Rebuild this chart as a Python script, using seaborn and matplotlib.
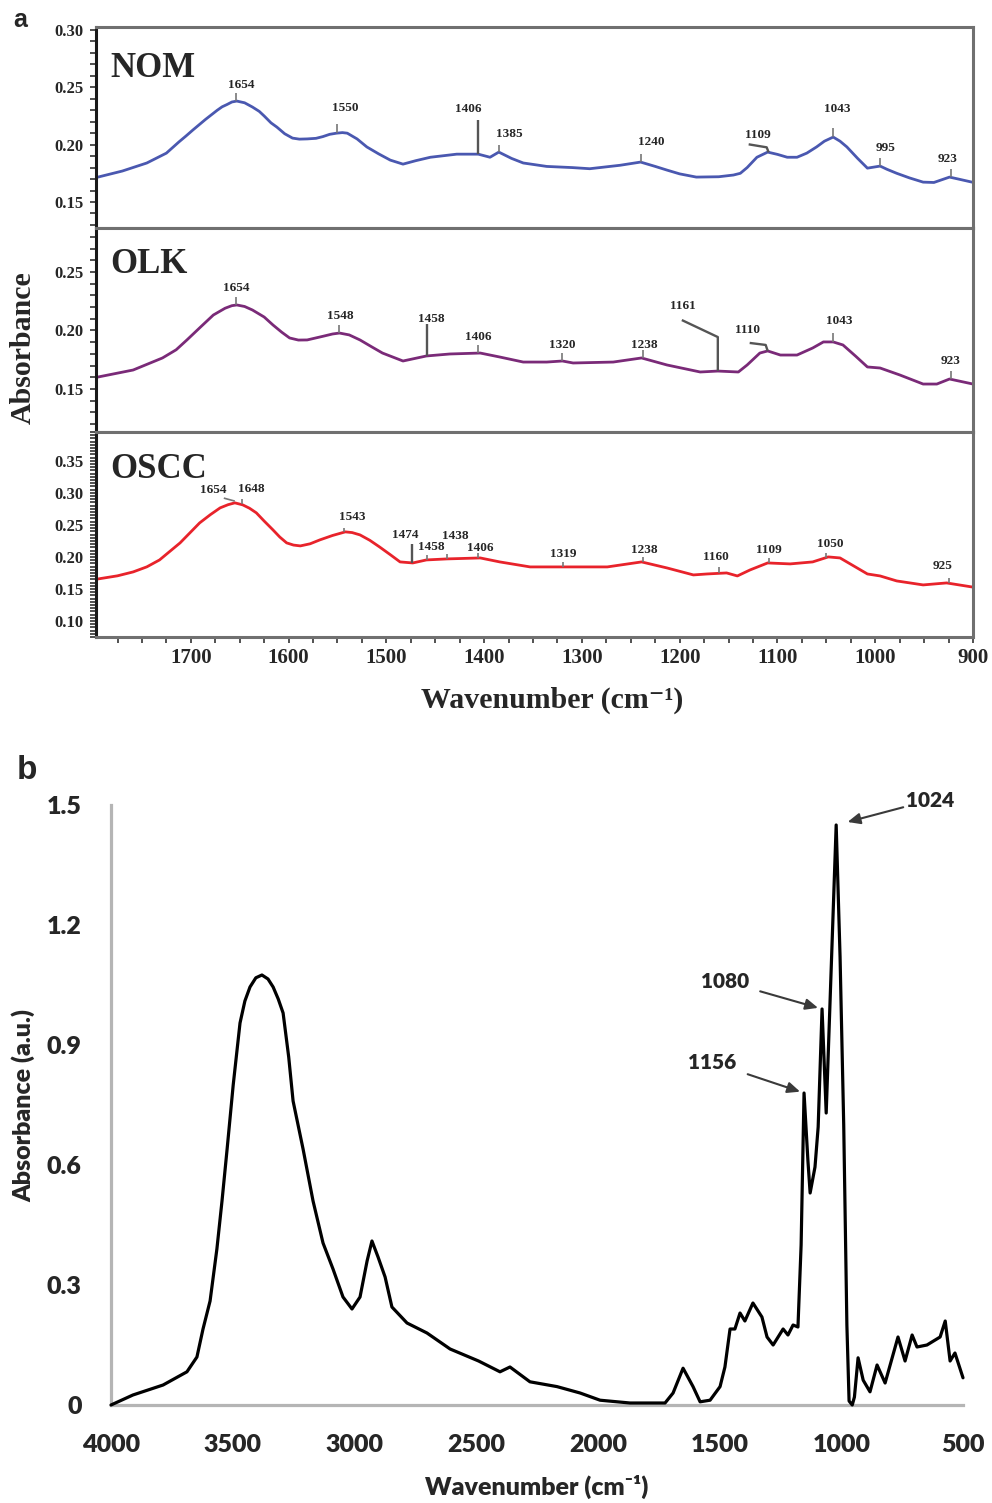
import numpy as np
import matplotlib.pyplot as plt
import seaborn as sns
from matplotlib.ticker import MultipleLocator

# ---------------- panel a: FTIR spectra, 1800-900 cm-1 ----------------
nom_wn = [1795, 1770, 1745, 1725, 1712, 1705, 1698, 1685, 1679, 1673, 1668, 1663, 1658, 1653, 1645,
          1637, 1630, 1625, 1618, 1612, 1604, 1596, 1589, 1581, 1572, 1565, 1558, 1551, 1545, 1540,
          1530, 1520, 1508, 1496, 1483, 1470, 1455, 1445, 1428, 1406, 1394, 1385, 1372, 1360, 1336,
          1310, 1292, 1261, 1240, 1225, 1213, 1200, 1183, 1160, 1145, 1138, 1131, 1121, 1110, 1100,
          1090, 1080, 1070, 1060, 1052, 1043, 1036, 1029, 1018, 1008, 995, 988, 978, 965, 951, 940,
          924, 915, 901]
nom_abs = [0.1717, 0.177, 0.184, 0.1926, 0.2025, 0.2075, 0.2127, 0.222, 0.226, 0.230, 0.233, 0.235,
           0.2372, 0.238, 0.2365, 0.2328, 0.229, 0.225, 0.219, 0.2153, 0.2095, 0.2057, 0.2048, 0.205,
           0.2055, 0.207, 0.209, 0.210, 0.2105, 0.210, 0.205, 0.198, 0.192, 0.1865, 0.183, 0.186,
           0.189, 0.190, 0.1917, 0.1917, 0.189, 0.1935, 0.188, 0.184, 0.181, 0.180, 0.179, 0.182,
           0.1848, 0.181, 0.1778, 0.1745, 0.1717, 0.172, 0.1735, 0.175, 0.180, 0.189, 0.1935, 0.1915,
           0.189, 0.189, 0.1926, 0.198, 0.203, 0.2066, 0.203, 0.198, 0.188, 0.1795, 0.1813, 0.1785,
           0.175, 0.171, 0.1673, 0.167, 0.1717, 0.170, 0.1673]

olk_wn = [1795, 1759, 1729, 1715, 1704, 1690, 1677, 1665, 1658, 1653, 1645, 1637, 1625, 1616, 1607,
          1599, 1590, 1581, 1565, 1555, 1548, 1538, 1527, 1515, 1504, 1483, 1459, 1435, 1404, 1384,
          1360, 1336, 1320, 1309, 1268, 1239, 1213, 1179, 1161, 1140, 1131, 1118, 1110, 1097, 1080,
          1064, 1053, 1043, 1033, 1020, 1008, 995, 975, 951, 937, 924, 900]
olk_abs = [0.1602, 0.1662, 0.1765, 0.1835, 0.1919, 0.203, 0.2132, 0.219, 0.2212, 0.2218, 0.2205,
           0.2175, 0.2115, 0.2047, 0.1985, 0.1936, 0.1918, 0.1919, 0.195, 0.197, 0.1978, 0.1962,
           0.1919, 0.186, 0.1807, 0.1739, 0.1782, 0.1799, 0.1807, 0.1773, 0.173, 0.173, 0.1739,
           0.1722, 0.173, 0.1765, 0.1705, 0.1645, 0.1653, 0.1645, 0.1705, 0.1807, 0.1825, 0.179,
           0.179, 0.185, 0.1902, 0.1902, 0.1876, 0.178, 0.1688, 0.1679, 0.162, 0.1542, 0.1542,
           0.1585, 0.1542]

oscc_wn = [1795, 1775, 1759, 1745, 1732, 1722, 1711, 1701, 1691, 1680, 1670, 1662, 1655, 1647, 1640,
           1633, 1625, 1616, 1609, 1602, 1595, 1588, 1578, 1568, 1555, 1542, 1535, 1527, 1517, 1507,
           1496, 1486, 1473, 1459, 1438, 1404, 1384, 1353, 1319, 1274, 1239, 1213, 1186, 1172, 1152,
           1141, 1128, 1110, 1087, 1064, 1048, 1036, 1008, 995, 978, 951, 927, 901]
oscc_abs = [0.1656, 0.1705, 0.1766, 0.1845, 0.1953, 0.208, 0.2219, 0.2375, 0.2531, 0.266, 0.2766,
            0.2815, 0.2844, 0.2813, 0.276, 0.2688, 0.256, 0.2422, 0.231, 0.2219, 0.2185, 0.2172,
            0.2205, 0.2266, 0.2335, 0.2391, 0.238, 0.2344, 0.226, 0.2156, 0.2035, 0.1922, 0.1906,
            0.1953, 0.1969, 0.1984, 0.1922, 0.1844, 0.1844, 0.1844, 0.1922, 0.1828, 0.1719, 0.1734,
            0.175, 0.1703, 0.1797, 0.1906, 0.1891, 0.1922, 0.2, 0.1984, 0.1734, 0.1703, 0.1625,
            0.1563, 0.1594, 0.1531]

nom_peaks = [1654, 1550, 1406, 1385, 1240, 1109, 1043, 995, 923]
olk_peaks = [1654, 1548, 1458, 1406, 1320, 1238, 1161, 1110, 1043, 923]
oscc_peaks = [1654, 1648, 1543, 1474, 1458, 1438, 1406, 1319, 1238, 1160, 1109, 1050, 925]

nom_yticks = [0.15, 0.20, 0.25, 0.30]
olk_yticks = [0.15, 0.20, 0.25]
oscc_yticks = [0.10, 0.15, 0.20, 0.25, 0.30, 0.35]
a_xticks = [1700, 1600, 1500, 1400, 1300, 1200, 1100, 1000, 900]

# ---------------- panel b: full range spectrum ----------------
b_wn = [4000, 3910, 3786, 3688, 3647, 3622, 3593, 3565, 3544, 3523, 3498, 3470, 3450, 3429, 3405,
        3380, 3355, 3334, 3313, 3293, 3270, 3252, 3211, 3170, 3129, 3088, 3047, 3010, 2977, 2948,
        2928, 2903, 2874, 2846, 2784, 2702, 2607, 2490, 2402, 2361, 2279, 2168, 2073, 1991, 1868,
        1724, 1691, 1650, 1609, 1580, 1539, 1498, 1478, 1457, 1437, 1416, 1396, 1363, 1326, 1305,
        1280, 1239, 1219, 1198, 1178, 1165, 1153, 1137, 1128, 1108, 1095, 1079, 1062, 1021, 1005,
        990, 977, 968, 955, 946, 931, 910, 882, 853, 820, 767, 738, 709, 689, 648, 594, 573, 553,
        533, 500]
b_abs = [0.0, 0.025, 0.05, 0.083, 0.12, 0.19, 0.26, 0.39, 0.51, 0.64, 0.80, 0.955, 1.01, 1.045,
         1.068, 1.075, 1.065, 1.045, 1.015, 0.98, 0.87, 0.76, 0.64, 0.51, 0.405, 0.34, 0.27, 0.24,
         0.27, 0.36, 0.41, 0.37, 0.32, 0.245, 0.205, 0.18, 0.14, 0.11, 0.083, 0.095, 0.058, 0.046,
         0.03, 0.012, 0.005, 0.005, 0.03, 0.092, 0.046, 0.008, 0.012, 0.046, 0.095, 0.19, 0.19, 0.23,
         0.21, 0.255, 0.22, 0.17, 0.15, 0.19, 0.175, 0.20, 0.195, 0.40, 0.78, 0.61, 0.53, 0.595,
         0.695, 0.99, 0.73, 1.45, 1.12, 0.70, 0.20, 0.01, 0.0, 0.02, 0.118, 0.062, 0.033, 0.10,
         0.055, 0.17, 0.11, 0.175, 0.145, 0.15, 0.17, 0.21, 0.11, 0.13, 0.068]
b_peaks = [1024, 1080, 1156]
b_yticks = [0, 0.3, 0.6, 0.9, 1.2, 1.5]
b_xticks = [4000, 3500, 3000, 2500, 2000, 1500, 1000, 500]

# label layout for panel a peaks, pixel offsets from the curve point (y up):
# stem polyline, label centre
nom_layout = {
    1654: ([(0, 0), (0, 8)], (5, 18)), 1550: ([(0, 0), (0, 9)], (8, 27)),
    1406: ([(0, 0), (0, 34)], (-10, 47)), 1385: ([(0, 0), (0, 7)], (10, 20)),
    1240: ([(0, 0), (0, 8)], (11, 22)), 1109: ([(0, 0), (-2, 5), (-20, 8)], (-11, 19)),
    1043: ([(0, 0), (0, 9)], (4, 30)), 995: ([(0, 0), (0, 8)], (5, 20)),
    923: ([(0, 0), (0, 8)], (-3, 20)),
}
olk_layout = {
    1654: ([(0, 0), (0, 8)], (0, 19)), 1548: ([(0, 0), (0, 8)], (1, 19)),
    1458: ([(0, 0), (0, 32)], (4, 38)), 1406: ([(0, 0), (0, 8)], (0, 18)),
    1320: ([(0, 0), (0, 8)], (0, 17)), 1238: ([(0, 0), (0, 8)], (2, 15)),
    1161: ([(0, 0), (0, 34), (-36, 51)], (-35, 67)), 1110: ([(0, 0), (-2, 6), (-18, 8)], (-20, 22)),
    1043: ([(0, 0), (0, 9)], (6, 22)), 923: ([(0, 0), (0, 8)], (0, 20)),
}
oscc_layout = {
    1654: ([(-1, 2), (-12, 5)], (-23, 15)), 1648: ([(0, 1), (0, 6)], (10, 17)),
    1543: ([(0, 0), (0, 4)], (8, 17)), 1474: ([(0, 0), (0, 19)], (-7, 29)),
    1458: ([(0, 0), (0, 5)], (4, 14)), 1438: ([(0, 0), (0, 5)], (8, 24)),
    1406: ([(0, 0), (0, 5)], (2, 12)), 1319: ([(0, 0), (0, 5)], (0, 14)),
    1238: ([(0, 0), (0, 5)], (2, 14)), 1160: ([(0, 0), (0, 6)], (-3, 18)),
    1109: ([(0, 0), (0, 5)], (0, 14)), 1050: ([(0, 0), (0, 5)], (4, 15)),
    925: ([(0, 0), (0, 5)], (-6, 19)),
}

sns.set_style('ticks')
plt.rcParams['font.family'] = ['Liberation Serif', 'DejaVu Serif']
plt.rcParams['font.weight'] = 'bold'

W, H = 992, 1503
fig = plt.figure(figsize=(W / 100, H / 100), dpi=100)


def box(l, t, r, b):
    return [l / W, 1 - b / H, (r - l) / W, (b - t) / H]


def mark_peaks(ax, wn, ab, peaks, layout):
    xs = np.array(wn[::-1], float)
    ys = np.array(ab[::-1], float)
    inv = ax.transData.inverted()
    for p in peaks:
        path, (lx, ly) = layout[p]
        v = np.interp(p, xs, ys)
        X, Y = ax.transData.transform((p, v))
        pts = inv.transform([(X + dx, Y + dy) for dx, dy in path])
        seg = np.hypot(*(np.array(path[-1]) - np.array(path[0])))
        strong = seg > 15
        ax.plot(pts[:, 0], pts[:, 1], color='#555555' if strong else '#777777',
                lw=1.7 if strong else 1.2, solid_capstyle='butt', zorder=3)
        tx, ty = inv.transform((X + lx, Y + ly - 4.5))
        ax.text(tx, ty, str(p), ha='center', va='baseline', fontsize=9.5, zorder=4)


rows = [
    ('NOM', nom_wn, nom_abs, nom_peaks, nom_layout, '#4a58b0', (27, 228), (0.1273, 0.3026),
     nom_yticks, 0.01, 77),
    ('OLK', olk_wn, olk_abs, olk_peaks, olk_layout, '#7a2a78', (228, 432), (0.1132, 0.2876),
     olk_yticks, 0.01, 273),
    ('OSCC', oscc_wn, oscc_abs, oscc_peaks, oscc_layout, '#e8232b', (432, 637), (0.075, 0.395),
     oscc_yticks, 0.005, 478),
]

for i, (name, wn, ab, peaks, layout, col, (t, b), ylim, yt, ym, base) in enumerate(rows):
    ax = fig.add_axes(box(96, t, 973, b))
    sns.lineplot(x=np.array(wn), y=np.array(ab), ax=ax, color=col, lw=2.0)
    ax.set_xlim(1797, 900)
    ax.set_ylim(*ylim)
    ax.set_xlabel('')
    ax.set_ylabel('')
    for s in ax.spines.values():
        s.set_color('#707070')
        s.set_linewidth(2.2)
    ax.spines['left'].set_color('#1a1a1a')
    ax.set_yticks(yt, [f'{v:.2f}' for v in yt], fontsize=12)
    ax.yaxis.set_minor_locator(MultipleLocator(ym))
    ax.tick_params(axis='y', which='both', direction='out', length=4, width=1.1,
                   color='#222222', pad=5, right=False)
    if i < 2:
        ax.tick_params(axis='x', which='both', bottom=False, labelbottom=False)
    else:
        ax.set_xticks(a_xticks, [str(v) for v in a_xticks], fontsize=15)
        ax.xaxis.set_minor_locator(MultipleLocator(25))
        ax.tick_params(axis='x', which='both', direction='out', length=4, width=1.1,
                       color='#222222', pad=4, top=False)
    fig.text(110 / W, 1 - base / H, name, fontsize=25, ha='left', va='baseline')
    mark_peaks(ax, wn, ab, peaks, layout)

fig.text(23 / W, 1 - 348 / H, 'Absorbance', rotation=90, fontsize=21.5, ha='center', va='center')
fig.text(552 / W, 1 - 708 / H, 'Wavenumber (cm\u207b\u00b9)', fontsize=21.5,
         family=['Liberation Serif', 'DejaVu Serif'], ha='center', va='baseline')
fig.text(13 / W, 1 - 27 / H, 'a', family='Liberation Sans', fontsize=18, ha='left', va='baseline')

# ---------------- panel b ----------------
bfont = ['Lato', 'DejaVu Sans']
axb = fig.add_axes(box(111, 805, 963, 1405))
sns.lineplot(x=np.array(b_wn), y=np.array(b_abs), ax=axb, color='black', lw=2.3)
axb.lines[0].set_clip_on(False)
axb.set_xlim(4000, 500)
axb.set_ylim(0, 1.5)
axb.set_xlabel('')
axb.set_ylabel('')
for side in ['top', 'right']:
    axb.spines[side].set_visible(False)
for side in ['left', 'bottom']:
    axb.spines[side].set_color('#b5b5b5')
    axb.spines[side].set_linewidth(2.3)
    axb.spines[side].set_zorder(0)
axb.set_xticks(b_xticks, [str(v) for v in b_xticks], fontsize=18, family=bfont, weight='heavy')
axb.set_yticks(b_yticks, ['0' if v == 0 else f'{v:.1f}' for v in b_yticks],
               fontsize=18, family=bfont, weight='heavy')
axb.tick_params(axis='x', length=0, pad=21)
axb.tick_params(axis='y', length=0, pad=21)

bx = np.array(b_wn, float)
by = np.array(b_abs, float)
b_text_off = {1024: ((68, 18), 8.5, 0), 1080: ((-70, 20), 3, 6), 1156: ((-66, 22), 3, 6)}
for p in b_peaks:
    win = np.abs(bx - p) <= 15
    k = np.argmax(np.where(win, by, -1))
    (ox, oy), shB, shA = b_text_off[p]
    axb.annotate(str(p), xy=(bx[k], by[k]), xytext=(ox, oy), textcoords='offset points',
                 ha='center', va='center', fontsize=15, family=bfont, weight='heavy',
                 arrowprops=dict(arrowstyle='-|>,head_length=0.5,head_width=0.22',
                                 color='#3a3a3a', lw=1.5, shrinkA=shA, shrinkB=shB))

fig.text(23 / W, 1 - 1105 / H, 'Absorbance (a.u.)', rotation=90, fontsize=18, family=bfont,
         weight='heavy', ha='center', va='center')
fig.text(537 / W, 1 - 1495 / H, 'Wavenumber (cm\u207b\u00b9)', fontsize=18, family=bfont,
         weight='heavy', ha='center', va='baseline')
fig.text(17 / W, 1 - 779 / H, 'b', family='Liberation Sans', fontsize=24, ha='left', va='baseline')

fig.savefig('out.png', dpi=100)
